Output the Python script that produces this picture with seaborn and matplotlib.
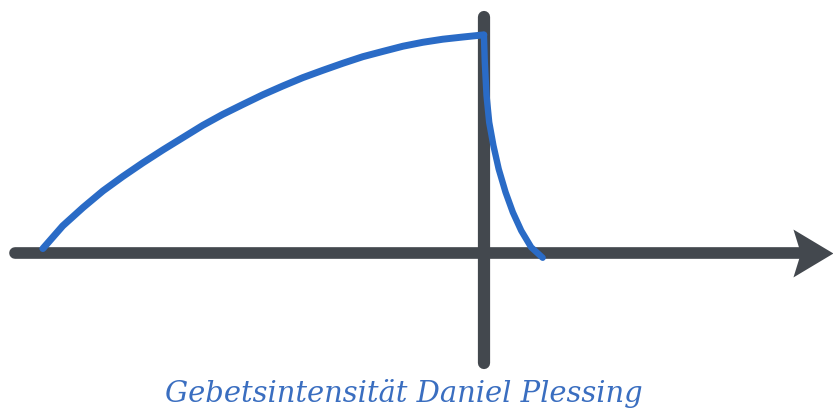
import numpy as np
import pandas as pd
import matplotlib
matplotlib.use("Agg")
import matplotlib.pyplot as plt
from matplotlib.path import Path
import seaborn as sns

# --- data (time relative to the turning point, intensity) ---
rise_t = [-9.98, -9.53, -9.07, -8.62, -8.17, -7.72, -7.26, -6.81, -6.36, -5.91,
          -5.45, -5.00, -4.55, -4.10, -3.64, -3.19, -2.74, -2.29, -1.83, -1.38,
          -0.93, -0.48, 0.0]
rise_y = [0.11, 0.63, 1.05, 1.43, 1.76, 2.07, 2.37, 2.65, 2.93, 3.18,
          3.41, 3.63, 3.83, 4.02, 4.19, 4.35, 4.50, 4.62, 4.74, 4.83,
          4.90, 4.95, 5.0]
fall_t = [0.0, 0.02, 0.06, 0.12, 0.215, 0.335, 0.49, 0.655, 0.845, 1.07, 1.33]
fall_y = [5.0, 4.38, 3.61, 3.00, 2.47, 1.93, 1.40, 0.94, 0.52, 0.14, -0.10]
title = "Gebetsintensität Daniel Plessing"

# axis extents
x_axis_range = [-10.6, 7.35]
y_axis_range = [-2.51, 5.41]
xlim = (-10.95, 7.9)
ylim = (-3.56, 5.82)

DARK = "#43484e"
BLUE = "#2a6bc6"
TEXT_BLUE = "#3a6ec0"

sns.set_theme(style="white")

fig = plt.figure(figsize=(8.33, 4.10), dpi=100)
ax = fig.add_axes([0, 0, 1, 1])

# axes lines
ax.plot(x_axis_range, [0, 0], color=DARK, lw=8.4, solid_capstyle="round", zorder=1)
ax.plot([0, 0], y_axis_range, color=DARK, lw=8.8, solid_capstyle="round", zorder=1)

# arrow head (stealth-like)
head = Path([(1.0, 0.0), (-0.67, 1.0), (-0.36, 0.0), (-0.67, -1.0), (1.0, 0.0)],
            [Path.MOVETO, Path.LINETO, Path.LINETO, Path.LINETO, Path.CLOSEPOLY])
ax.plot([x_axis_range[1]], [0], marker=head, markersize=34.5, color=DARK,
        markeredgewidth=0, zorder=2)

rise = pd.DataFrame({"t": rise_t, "y": rise_y})
fall = pd.DataFrame({"t": fall_t, "y": fall_y})
sns.lineplot(data=rise, x="t", y="y", ax=ax, color=BLUE, lw=5.0, sort=False,
             estimator=None, zorder=3)
sns.lineplot(data=fall, x="t", y="y", ax=ax, color=BLUE, lw=4.6, sort=False,
             estimator=None, zorder=3)
for l in ax.lines[-2:]:
    l.set_solid_capstyle("round")
    l.set_solid_joinstyle("round")

ax.set_xlim(*xlim)
ax.set_ylim(*ylim)
ax.axis("off")

fig.text(403.5 / 833, 1 - 402 / 410, title, ha="center", va="baseline",
         family="DejaVu Serif", style="italic", fontsize=20.9, color=TEXT_BLUE)

fig.savefig("out.png", dpi=100, facecolor="white")
